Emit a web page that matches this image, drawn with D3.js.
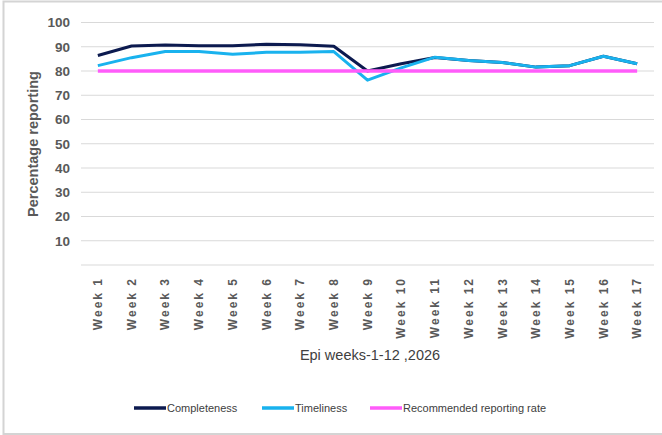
<!DOCTYPE html>
<html>
<head>
<meta charset="utf-8">
<script src="https://cdn.jsdelivr.net/npm/d3@7"></script>
<style>
  body { margin: 0; background: #fff; }
  svg { display: block; }
</style>
</head>
<body>
<div id="chart"></div>
<script>
// Données
const weeks = ["Week 1", "Week 2", "Week 3", "Week 4", "Week 5", "Week 6", "Week 7", "Week 8", "Week 9",
  "Week 10", "Week 11", "Week 12", "Week 13", "Week 14", "Week 15", "Week 16", "Week 17"];
const completeness = [86.4, 90.3, 90.7, 90.4, 90.4, 91, 90.8, 90.2, 80, 83, 85.6, 84.3, 83.5, 81.6, 82.2, 86.1, 83];
const timeliness = [82.2, 85.5, 88, 88, 86.9, 87.7, 87.7, 88, 76.2, 81.3, 85.7, 84.3, 83.5, 81.6, 82.2, 86.1, 83];
const recommended = weeks.map(() => 80);
const yTicks = [10, 20, 30, 40, 50, 60, 70, 80, 90, 100];

const seriesNames = ["Completeness", "Timeliness", "Recommended reporting rate"];
const seriesColors = ["#0c1a4f", "#19b2ee", "#ff5cfa"];

const width = 662, height = 435;
const margin = { top: 22.5, right: 8, bottom: 170, left: 81 };

const svg = d3.select("#chart").append("svg")
  .attr("width", width)
  .attr("height", height);

// Cadre gris autour du graphique
svg.append("path")
  .attr("d", `M${width},1.5 H3.5 V${height - 1} H${width}`)
  .attr("fill", "none")
  .attr("stroke", "#d4d4d4")
  .attr("stroke-width", 2);

const x = d3.scaleBand()
  .domain(weeks)
  .range([margin.left, 654]);

const y = d3.scaleLinear()
  .domain([0, 100])
  .range([265, margin.top]);

const xc = d => x(d) + x.bandwidth() / 2;

// Lignes de grille (0 à 100)
svg.append("g")
  .selectAll("line")
  .data([0].concat(yTicks))
  .join("line")
  .attr("x1", margin.left)
  .attr("x2", 654)
  .attr("y1", d => y(d))
  .attr("y2", d => y(d))
  .attr("stroke", "#d9d9d9")
  .attr("stroke-width", 1);

// Axe Y (étiquettes seulement)
const yAxis = svg.append("g")
  .attr("transform", `translate(${margin.left - 11},0)`)
  .call(d3.axisLeft(y).tickValues(yTicks).tickSize(0).tickPadding(0));
yAxis.select(".domain").remove();
yAxis.selectAll("text")
  .attr("fill", "#595959")
  .attr("font-family", "Liberation Sans, Arial, sans-serif")
  .attr("font-size", 13.5)
  .attr("font-weight", "bold");

// Axe X (étiquettes verticales)
const xAxis = svg.append("g")
  .attr("transform", "translate(0,277)")
  .call(d3.axisBottom(x).tickSize(0).tickPadding(0));
xAxis.select(".domain").remove();
xAxis.selectAll("text")
  .attr("transform", "rotate(-90)")
  .attr("text-anchor", "end")
  .attr("dy", "0.35em")
  .attr("x", 0)
  .attr("y", 0)
  .attr("fill", "#595959")
  .attr("font-family", "Liberation Sans, Arial, sans-serif")
  .attr("font-size", 12)
  .attr("font-weight", "bold")
  .attr("letter-spacing", 2);

// Titres des axes
svg.append("text")
  .attr("transform", "translate(38,144) rotate(-90)")
  .attr("text-anchor", "middle")
  .attr("fill", "#595959")
  .attr("font-family", "Liberation Sans, Arial, sans-serif")
  .attr("font-size", 14.5)
  .attr("font-weight", "bold")
  .text("Percentage reporting");

svg.append("text")
  .attr("x", 370)
  .attr("y", 360)
  .attr("text-anchor", "middle")
  .attr("fill", "#404040")
  .attr("font-family", "Liberation Sans, Arial, sans-serif")
  .attr("font-size", 14.5)
  .text("Epi weeks-1-12 ,2026");

// Séries
const line = d3.line()
  .x((d, i) => xc(weeks[i]))
  .y(d => y(d));

[completeness, timeliness, recommended].forEach((values, k) => {
  svg.append("path")
    .datum(values)
    .attr("d", line)
    .attr("fill", "none")
    .attr("stroke", seriesColors[k])
    .attr("stroke-width", k === 2 ? 3.5 : 3)
    .attr("stroke-linejoin", "round");
});

// Légende
const legendX = [134, 262, 370];
const legend = svg.append("g").attr("transform", "translate(0,408)");
seriesNames.forEach((name, k) => {
  legend.append("line")
    .attr("x1", legendX[k])
    .attr("x2", legendX[k] + 32)
    .attr("y1", 0)
    .attr("y2", 0)
    .attr("stroke", seriesColors[k])
    .attr("stroke-width", 3.5);
  legend.append("text")
    .attr("x", legendX[k] + 33)
    .attr("y", 0)
    .attr("dy", "0.35em")
    .attr("fill", "#404040")
    .attr("font-family", "Liberation Sans, Arial, sans-serif")
    .attr("font-size", 11)
    .text(name);
});
</script>
</body>
</html>
